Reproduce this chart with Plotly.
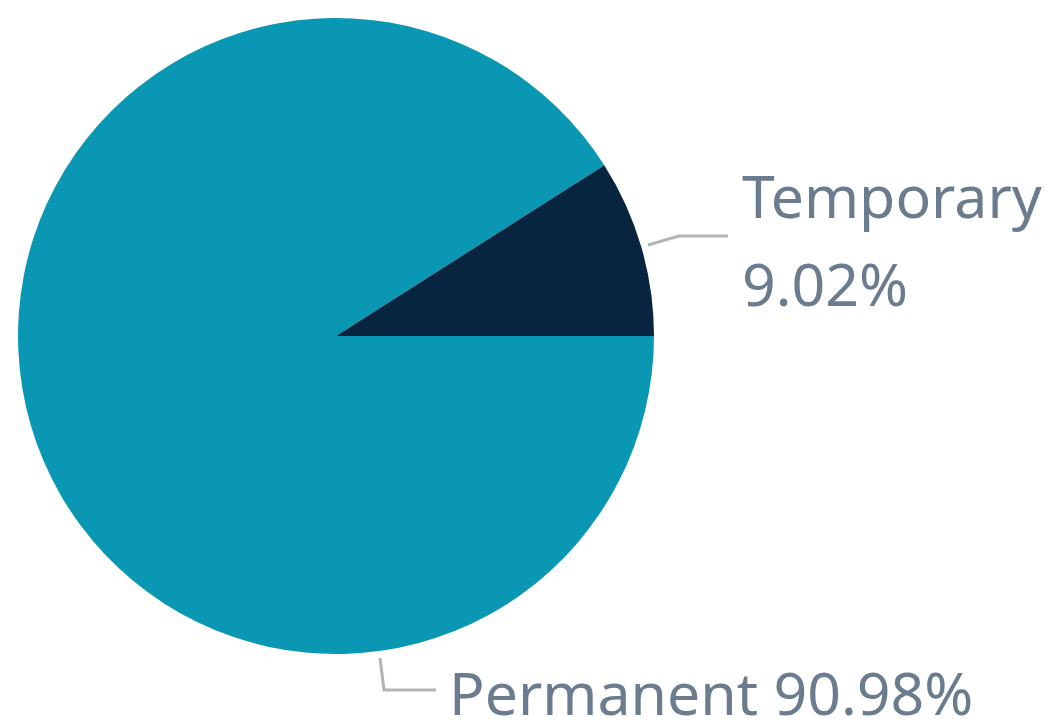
import plotly.graph_objects as go

labels = ["Permanent", "Temporary"]
values = [90.98, 9.02]
colors = ["#0a97b3", "#08253f"]

W, H = 1052, 727
TEXT_COLOR = "#6b7c8f"
LINE_COLOR = "#b3b3b3"
FONT = "Noto Sans"

fig = go.Figure(go.Pie(
    labels=labels,
    values=values,
    sort=False,
    direction="clockwise",
    rotation=90,
    marker=dict(colors=colors, line=dict(width=0)),
    textinfo="none",
    hoverinfo="label+percent",
    showlegend=False,
    domain=dict(x=[18 / W, 654 / W], y=[1 - 654 / H, 1 - 18 / H]),
))

def px(x, y):
    return x / W, 1 - y / H

total = sum(values)
pct = [v / total * 100 for v in values]
font = dict(family=FONT, size=59, color=TEXT_COLOR)

# Temporary label (two lines)
x1, y1 = px(740, 195)
fig.add_annotation(x=x1, y=y1, xref="paper", yref="paper", xanchor="left", yanchor="middle",
                   text=labels[1], showarrow=False, align="left", font=font)
x1b, y1b = px(740, 283)
fig.add_annotation(x=x1b, y=y1b, xref="paper", yref="paper", xanchor="left", yanchor="middle",
                   text=f"{pct[1]:.2f}%", showarrow=False, align="left", font=font)
# Permanent label
x2, y2 = px(447, 692)
fig.add_annotation(x=x2, y=y2, xref="paper", yref="paper", xanchor="left", yanchor="middle",
                   text=f"{labels[0]} {pct[0]:.2f}%", showarrow=False, align="left", font=font)

def path(points):
    return "M " + " L ".join(f"{x / W},{1 - y / H}" for x, y in points)

fig.add_shape(type="path", xref="paper", yref="paper",
              path=path([(648, 245), (679, 236), (728, 236)]),
              line=dict(color=LINE_COLOR, width=3))
fig.add_shape(type="path", xref="paper", yref="paper",
              path=path([(380, 658), (384, 690), (436, 690)]),
              line=dict(color=LINE_COLOR, width=3))

fig.update_layout(width=W, height=H, margin=dict(l=0, r=0, t=0, b=0),
                  paper_bgcolor="white", plot_bgcolor="white")
fig.write_html("out.html", config={"displayModeBar": False},
               post_script="document.body.style.margin='0';")
